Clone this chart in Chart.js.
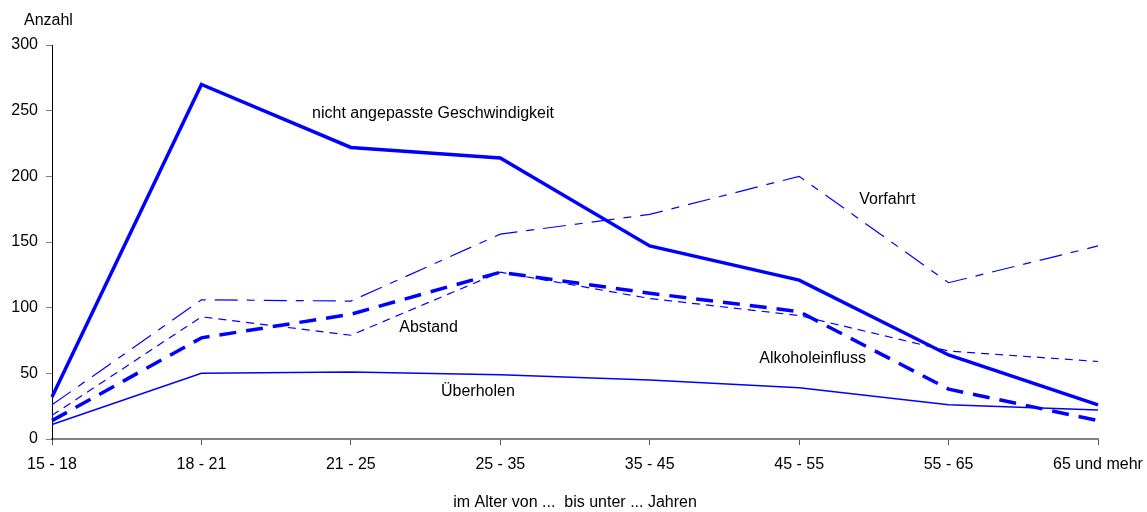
<!DOCTYPE html>
<html>
<head>
<meta charset="utf-8">
<script src="https://cdn.jsdelivr.net/npm/chart.js@4"></script>
<style>
  html, body { margin: 0; padding: 0; background: #fff; }
  #wrap { width: 1147px; height: 512px; }
</style>
</head>
<body>
<div id="wrap"><canvas id="myChart"></canvas></div>
<script>
const ageGroups = ['15 - 18', '18 - 21', '21 - 25', '25 - 35', '35 - 45', '45 - 55', '55 - 65', '65 und mehr'];

const geschwindigkeit = [32, 270, 222, 214, 147, 121, 64, 26];
const vorfahrt = [26, 106, 105, 156, 171, 200, 119, 147];
const abstand = [18, 93, 79, 127, 107, 94, 67, 59];
const alkohol = [14, 77, 95, 127, 111, 97, 38, 14];
const ueberholen = [11, 50, 51, 49, 45, 39, 26, 22];

const yTicks = [0, 50, 100, 150, 200, 250, 300];

// labels written next to the lines: [text, x position (category index), y value]
const lineLabels = [
    ['nicht angepasste Geschwindigkeit', 2.55, 248],
    ['Vorfahrt', 5.59, 182],
    ['Abstand', 2.52, 85],
    ['Alkoholeinfluss', 5.09, 61],
    ['Überholen', 2.85, 36],
];

const FONT = 'Arial, "Liberation Sans", sans-serif';
const blue = '#0000ff';

const textPlugin = {
    id: 'textPlugin',
    afterDraw(chart) {
        const c = chart.ctx;
        const xs = chart.scales.x;
        const ys = chart.scales.y;
        c.save();
        c.fillStyle = '#000';
        c.font = '16px ' + FONT;
        c.textAlign = 'center';
        c.textBaseline = 'middle';
        lineLabels.forEach(function (l) {
            c.fillText(l[0], xs.getPixelForValue(l[1]), ys.getPixelForValue(l[2]));
        });
        c.textAlign = 'left';
        c.fillText('Anzahl', chart.chartArea.left - 28, chart.chartArea.top - 24);
        c.restore();
    }
};

const config = {
    type: 'line',
    data: {
        labels: ageGroups,
        datasets: [
            { label: 'nicht angepasste Geschwindigkeit', data: geschwindigkeit, borderColor: blue, borderWidth: 3.5 },
            { label: 'Vorfahrt', data: vorfahrt, borderColor: blue, borderWidth: 1.2, borderDash: [23, 9, 8, 9] },
            { label: 'Abstand', data: abstand, borderColor: blue, borderWidth: 1.2, borderDash: [8, 6] },
            { label: 'Alkoholeinfluss', data: alkohol, borderColor: blue, borderWidth: 3.5, borderDash: [17, 10] },
            { label: 'Überholen', data: ueberholen, borderColor: blue, borderWidth: 1.5 },
        ]
    },
    options: {
        responsive: true,
        maintainAspectRatio: false,
        animation: false,
        elements: {
            point: { radius: 0 },
            line: { tension: 0, fill: false }
        },
        layout: {
            padding: { left: 0, right: 49, top: 45, bottom: 0 }
        },
        plugins: {
            legend: { display: false },
            tooltip: { enabled: false }
        },
        scales: {
            x: {
                offset: false,
                afterFit(axis) {
                    axis.height = 73;
                    axis.paddingLeft = 0;
                    axis.paddingRight = 0;
                },
                grid: { display: true, drawOnChartArea: false, tickLength: 6, color: '#555' },
                border: { color: '#808080', width: 2 },
                ticks: { color: '#000', font: { size: 16, family: FONT }, padding: 10, maxRotation: 0, autoSkip: false },
                title: {
                    display: true,
                    text: 'im Alter von ...  bis unter ... Jahren',
                    color: '#000',
                    font: { size: 16, family: FONT },
                    padding: { top: 10, bottom: 0 }
                }
            },
            y: {
                min: 0,
                max: 300,
                afterBuildTicks(axis) {
                    axis.ticks = yTicks.map(v => ({ value: v }));
                },
                afterFit(axis) {
                    axis.width = 52;
                },
                grid: { display: true, drawOnChartArea: false, tickLength: 6, color: '#808080' },
                border: { color: '#000', width: 1 },
                ticks: { color: '#000', font: { size: 16, family: FONT }, padding: 8 }
            }
        }
    },
    plugins: [textPlugin]
};

const myChart = new Chart(document.getElementById('myChart'), config);
</script>
</body>
</html>
